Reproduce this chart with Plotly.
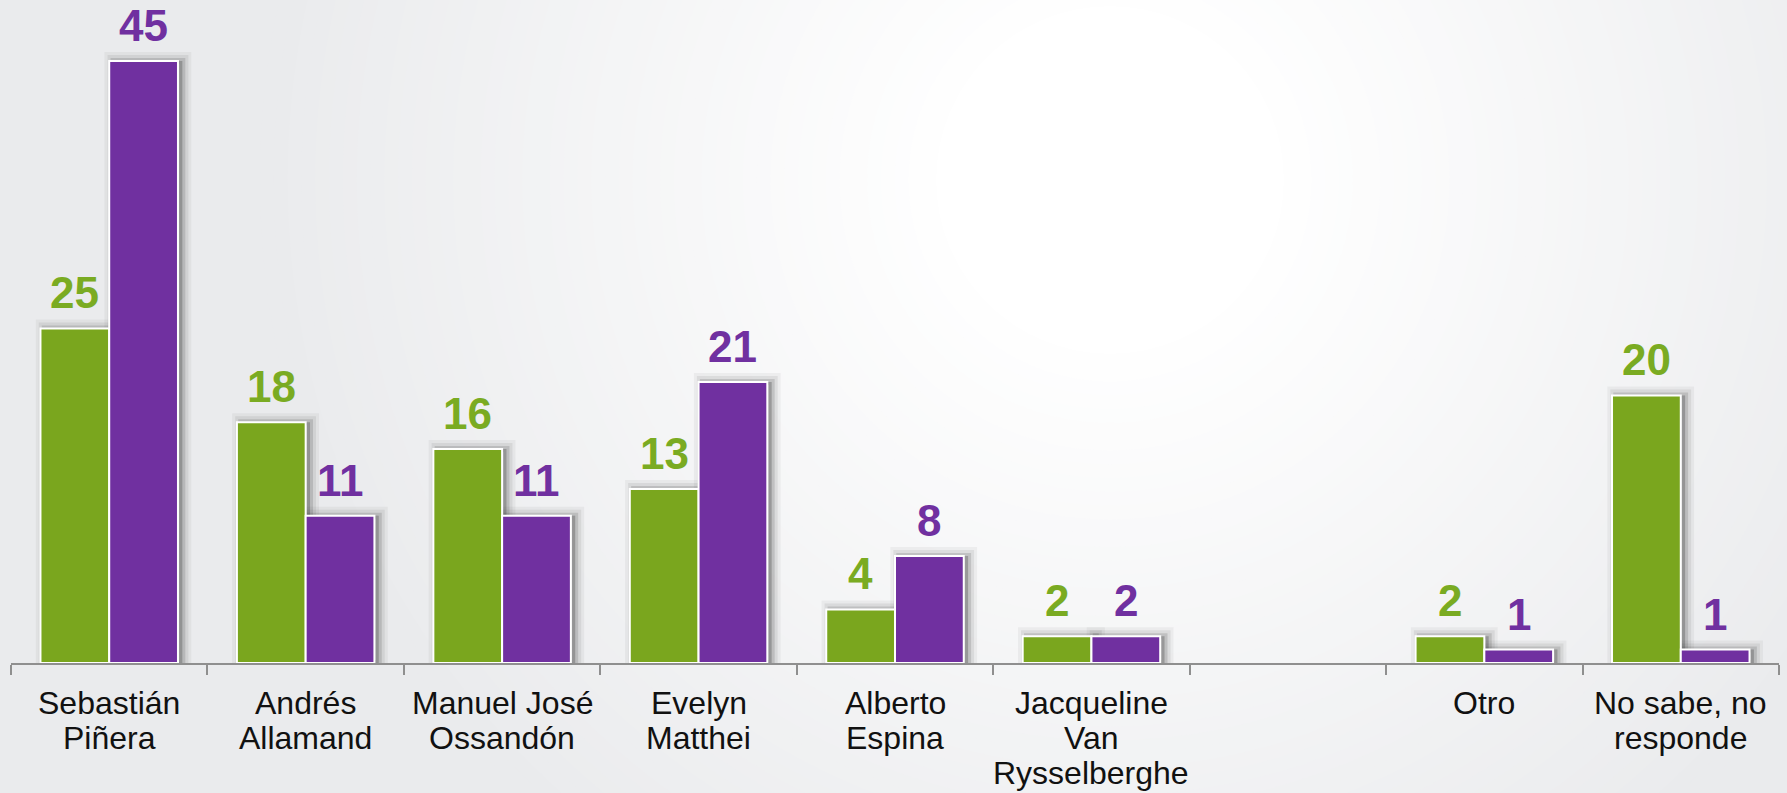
import plotly.graph_objects as go

# ---- data ----
label_lines = [
    ["Sebastián", "Piñera"],
    ["Andrés", "Allamand"],
    ["Manuel José", "Ossandón"],
    ["Evelyn", "Matthei"],
    ["Alberto", "Espina"],
    ["Jacqueline", "Van", "Rysselberghe"],
    [],
    ["Otro"],
    ["No sabe, no", "responde"],
]
categories = [" ".join(l) if l else " " for l in label_lines]
green_vals = [25, 18, 16, 13, 4, 2, None, 2, 20]
purple_vals = [45, 11, 11, 21, 8, 2, None, 1, 1]

# ---- style ----
GREEN = "#7AA61E"
PURPLE = "#7030A0"
GREEN_TXT = "#7AAB22"
PURPLE_TXT = "#7030A0"
BG = "#EAEBED"
W, H = 1787, 793
ML, MR, MT, MB = 11, 8, 0, 130
BAR_W = 0.35
YMAX = 49.55

fig = go.Figure()

series = [(green_vals, GREEN, GREEN_TXT, -BAR_W), (purple_vals, PURPLE, PURPLE_TXT, 0.0)]

# soft drop shadows (same data, drawn behind)
for vals, col, tcol, off in series:
    for lw, a in [(18, 0.05), (12, 0.08), (6, 0.15)]:
        c = f"rgba(40,40,40,{a})"
        fig.add_trace(go.Bar(
            x=categories, y=vals, width=BAR_W, offset=off + 0.022,
            marker=dict(color=c, line=dict(color=c, width=lw)),
            hoverinfo="skip", showlegend=False,
        ))

for vals, col, tcol, off in series:
    fig.add_trace(go.Bar(
        x=categories, y=vals, width=BAR_W, offset=off,
        marker=dict(color=col, line=dict(color="white", width=2)),
        hoverinfo="skip", showlegend=False,
    ))

annotations = []
# value labels
for vals, col, tcol, off in series:
    for i, v in enumerate(vals):
        if v is None:
            continue
        annotations.append(dict(
            x=i + off + BAR_W / 2, y=v, xref="x", yref="y",
            text=f"<b>{v}</b>", showarrow=False, yanchor="bottom",
            yshift=9, font=dict(family="Liberation Sans, Arial", size=44, color=tcol),
        ))
# category labels, one line each
for i, lines in enumerate(label_lines):
    for k, line in enumerate(lines):
        annotations.append(dict(
            x=i, y=0, xref="x", yref="paper", text=line, showarrow=False,
            yanchor="top", yshift=-20 - 35 * k,
            font=dict(family="Liberation Sans, Arial", size=32, color="#111111"),
        ))

# radial background glow
pw, ph = W - ML - MR, H - MT - MB
cx, cy = 1110, 180
r_in, r_out = 160, 850
steps = 50
shapes = []
base = (0xEA, 0xEB, 0xED)
for s in range(steps, -1, -1):
    r = r_in + (r_out - r_in) * s / steps
    t = s / steps
    col = tuple(int(round(255 + (b - 255) * t)) for b in base)
    shapes.append(dict(
        type="circle", xref="paper", yref="paper", layer="below",
        x0=(cx - r - ML) / pw, x1=(cx + r - ML) / pw,
        y0=(H - MB - (cy + r)) / ph, y1=(H - MB - (cy - r)) / ph,
        fillcolor="rgb(%d,%d,%d)" % col, line=dict(width=0),
    ))

fig.update_layout(
    width=W, height=H,
    margin=dict(l=ML, r=MR, t=MT, b=MB),
    barmode="overlay",
    paper_bgcolor=BG, plot_bgcolor="rgba(0,0,0,0)",
    showlegend=False,
    annotations=annotations, shapes=shapes,
    xaxis=dict(
        type="category", categoryorder="array", categoryarray=categories,
        range=[-0.5, len(categories) - 0.5],
        showticklabels=False, showgrid=False, zeroline=False,
        showline=True, linecolor="#8F8F8F", linewidth=2,
        ticks="outside", tickson="boundaries", ticklen=10, tickwidth=2, tickcolor="#8F8F8F",
    ),
    yaxis=dict(range=[0, YMAX], visible=False, showgrid=False, zeroline=False),
)

fig.write_html(
    "out.html",
    config={"displayModeBar": False, "staticPlot": True},
    post_script="document.body.style.margin='0';document.body.style.overflow='hidden';",
)
